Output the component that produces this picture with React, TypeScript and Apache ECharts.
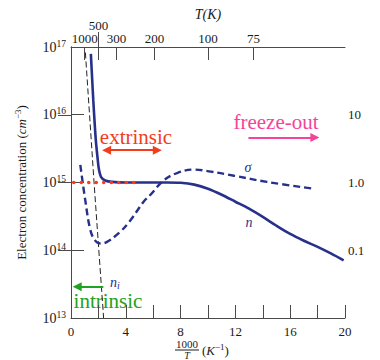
import React, { useEffect, useRef } from "react";
import * as echarts from "echarts";

const FONT = "'Liberation Serif', 'DejaVu Serif', serif";
const NAVY = "#27308a";
const AXIS = "#4a4a4a";
const TEXT = "#1a1a1a";
const RED = "#f23c1c";
const PINK = "#f6439a";
const GREEN = "#21a321";

// x = 1000/T (K^-1), electron concentration n (cm^-3)
const nData: [number, number][] = [
  [1.45, 7.9e16], [1.55, 3.2e16], [1.63, 1.6e16], [1.72, 7.9e15], [1.82, 4.0e15],
  [1.93, 2.4e15], [2.03, 1.6e15], [2.2, 1.2e15], [2.5, 1.07e15], [3.0, 1.02e15],
  [4.0, 1.0e15], [5.0, 1.0e15], [6.0, 1.0e15], [7.0, 1.0e15], [8.0, 9.9e14],
  [9.0, 9.3e14], [10.0, 8.1e14], [11.0, 6.6e14], [12.0, 5.2e14], [13.0, 4.1e14],
  [14.0, 3.1e14], [15.0, 2.3e14], [16.0, 1.74e14], [17.0, 1.38e14], [18.0, 1.12e14],
  [19.0, 8.9e13], [19.9, 7.1e13],
];
// conductivity sigma (right axis)
const sigmaData: [number, number][] = [
  [0.68, 1.82], [1.04, 0.55], [1.41, 0.2], [1.75, 0.14], [2.14, 0.126], [2.6, 0.132],
  [3.5, 0.18], [4.3, 0.27], [5.3, 0.52], [5.8, 0.66], [6.76, 1.07], [7.74, 1.38],
  [8.95, 1.55], [10.2, 1.45], [11.9, 1.26], [14.3, 1.02], [17.7, 0.81],
];
// intrinsic concentration n_i
const niData: [number, number][] = [[1.05, 8.3e16], [1.7, 8.9e14], [2.38, 1.0e13]];
// donor level N_d
const ndLevel: [number, number][] = [[-0.35, 1e15], [4.8, 1e15]];

const xLabelValues = [0, 4, 8, 12, 16, 20];
const topTickPos = [1, 2, 3.33, 6.1, 10, 13.33];
const topTickLabels = ["1000", "500", "300", "200", "100", "75"];
const rightTicks = [0.1, 1, 10];
const rightTickLabels = ["0.1", "1.0", "10"];

const extrinsicArrow: [number, number][] = [[2.6, 3.0e15], [6.3, 3.0e15]];
const freezeArrow: [number, number][] = [[12.95, 4.6e15], [17.8, 4.6e15]];
const intrinsicArrow: [number, number][] = [[2.36, 2.9e13], [0.45, 2.9e13]];

const topLabel = (v: number) => {
  const i = topTickPos.findIndex((p) => Math.abs(p - v) < 0.01);
  return i >= 0 ? topTickLabels[i] : "";
};

export default function App() {
  const ref = useRef<HTMLDivElement>(null);
  useEffect(() => {
    document.body.style.margin = "0";
    const chart = echarts.init(ref.current!, null, { renderer: "svg" });
    const labelStyle = { color: TEXT, fontFamily: FONT, fontSize: 13 };
    const arrowLine = (pts: [number, number][], color: string, startSym: string) => [
      { coord: pts[0], symbol: startSym, lineStyle: { color, width: 2, type: "solid" }, itemStyle: { color } },
      { coord: pts[1], symbol: "triangle", lineStyle: { color, width: 2, type: "solid" }, itemStyle: { color } },
    ];
    chart.setOption({
      animation: false,
      grid: { left: 71, right: 35, top: 47, bottom: 42 },
      xAxis: [
        {
          type: "value", min: 0, max: 20, interval: 2, position: "bottom",
          axisLine: { lineStyle: { color: AXIS, width: 1 } },
          axisTick: { inside: true, length: 13, lineStyle: { color: AXIS } },
          axisLabel: { ...labelStyle, margin: 7, formatter: (v: number) => (xLabelValues.includes(v) ? String(v) : "") },
          splitLine: { show: false },
        },
        {
          type: "value", min: 0, max: 20, position: "top",
          axisLine: { show: true, lineStyle: { color: AXIS, width: 1 } },
          axisTick: { show: true, inside: true, length: 13, customValues: topTickPos, lineStyle: { color: AXIS } },
          axisLabel: { ...labelStyle, margin: 2, customValues: topTickPos.filter((p) => p !== 2), formatter: topLabel },
          splitLine: { show: false },
          name: "T(K)", nameLocation: "middle", nameGap: 26,
          nameTextStyle: { color: TEXT, fontFamily: FONT, fontSize: 14, fontStyle: "italic" },
        },
        {
          type: "value", min: 0, max: 20, position: "top",
          axisLine: { show: false },
          axisTick: { show: true, inside: false, length: 15, customValues: [2], lineStyle: { color: AXIS } },
          axisLabel: { ...labelStyle, margin: 15, customValues: [2], formatter: topLabel },
          splitLine: { show: false },
        },
      ],
      yAxis: [
        {
          type: "log", logBase: 10, min: 1e13, max: 1e17, position: "left",
          axisLine: { show: true, lineStyle: { color: AXIS, width: 1 } },
          axisTick: { inside: true, length: 13, lineStyle: { color: AXIS } },
          axisLabel: {
            ...labelStyle,
            margin: 5,
            formatter: (v: number) => "{b|10}{s|" + Math.round(Math.log10(v)) + "}",
            rich: {
              b: { color: TEXT, fontFamily: FONT, fontSize: 14 },
              s: { color: TEXT, fontFamily: FONT, fontSize: 9.5, padding: [0, 0, 7, 0] },
            },
          },
          splitLine: { show: false },
          name: "{a|Electron concentration (}{i|cm}{s|−3}{a|)}",
          nameLocation: "middle", nameGap: 42, nameRotate: 90,
          nameTextStyle: {
            color: TEXT, fontFamily: FONT, fontSize: 13,
            rich: {
              a: { color: TEXT, fontFamily: FONT, fontSize: 13 },
              i: { color: TEXT, fontFamily: FONT, fontSize: 13, fontStyle: "italic" },
              s: { color: TEXT, fontFamily: FONT, fontSize: 9, padding: [0, 0, 7, 0] },
            },
          },
        },
        {
          type: "log", logBase: 10, min: 0.01, max: 100, position: "right",
          axisLine: { show: true, lineStyle: { color: AXIS, width: 1 } },
          axisTick: { inside: true, length: 13, customValues: rightTicks, lineStyle: { color: AXIS } },
          axisLabel: {
            ...labelStyle, margin: 3, customValues: rightTicks,
            formatter: (v: number) => {
              const i = rightTicks.findIndex((t) => Math.abs(t - v) / t < 0.01);
              return i >= 0 ? rightTickLabels[i] : "";
            },
          },
          splitLine: { show: false },
        },
      ],
      series: [
        {
          type: "line", data: niData, xAxisIndex: 0, yAxisIndex: 0, showSymbol: false, symbol: "none",
          lineStyle: { color: "#222", width: 1, type: [6, 3] },
        },
        {
          type: "line", data: nData, xAxisIndex: 0, yAxisIndex: 0, showSymbol: false, symbol: "none", smooth: 0.3,
          lineStyle: { color: NAVY, width: 2.6 },
        },
        {
          type: "line", data: sigmaData, xAxisIndex: 0, yAxisIndex: 1, showSymbol: false, symbol: "none", smooth: 0.4,
          lineStyle: { color: NAVY, width: 2.4, type: [7, 4] },
        },
        {
          type: "line", data: ndLevel, xAxisIndex: 0, yAxisIndex: 0, showSymbol: false, symbol: "none", clip: false,
          lineStyle: { color: "#ff3a1a", width: 3.5, type: [0.1, 7.4], cap: "round" },
          markLine: {
            silent: true, symbolSize: [9, 9], label: { show: false },
            data: [
              arrowLine(extrinsicArrow, RED, "triangle"),
              arrowLine(freezeArrow, PINK, "none"),
              arrowLine(intrinsicArrow, GREEN, "none"),
            ],
          },
        },
      ],
      graphic: [
        { type: "text", x: 136, y: 137, style: { text: "extrinsic", fill: RED, fontFamily: FONT, fontSize: 21, align: "center", verticalAlign: "middle" } },
        { type: "text", x: 276, y: 122, style: { text: "freeze-out", fill: PINK, fontFamily: FONT, fontSize: 21, align: "center", verticalAlign: "middle" } },
        { type: "text", x: 108, y: 301, style: { text: "intrinsic", fill: GREEN, fontFamily: FONT, fontSize: 21, align: "center", verticalAlign: "middle" } },
        { type: "text", x: 248, y: 167, style: { text: "σ", fill: NAVY, fontFamily: FONT, fontSize: 14, fontStyle: "italic", align: "center", verticalAlign: "middle" } },
        { type: "text", x: 249, y: 222, style: { text: "n", fill: NAVY, fontFamily: FONT, fontSize: 14, fontStyle: "italic", align: "center", verticalAlign: "middle" } },
        {
          type: "text", x: 110, y: 282,
          style: {
            text: "{n|n}{i|i}", align: "left", verticalAlign: "middle",
            rich: {
              n: { fill: NAVY, fontFamily: FONT, fontSize: 14, fontStyle: "italic" },
              i: { fill: NAVY, fontFamily: FONT, fontSize: 10, fontStyle: "italic", padding: [6, 0, 0, 0] },
            },
          },
        },
        { type: "text", x: 187, y: 344, style: { text: "1000", fill: TEXT, fontFamily: FONT, fontSize: 11, align: "center", verticalAlign: "middle" } },
        { type: "line", shape: { x1: 175, y1: 350, x2: 199, y2: 350 }, style: { stroke: TEXT, lineWidth: 1 } },
        { type: "text", x: 187, y: 355, style: { text: "T", fill: TEXT, fontFamily: FONT, fontSize: 10, fontStyle: "italic", align: "center", verticalAlign: "middle" } },
        {
          type: "text", x: 202, y: 350,
          style: {
            text: "{a|(}{i|K}{s|−1}{a|)}", align: "left", verticalAlign: "middle",
            rich: {
              a: { fill: TEXT, fontFamily: FONT, fontSize: 13 },
              i: { fill: TEXT, fontFamily: FONT, fontSize: 13, fontStyle: "italic" },
              s: { fill: TEXT, fontFamily: FONT, fontSize: 9, padding: [0, 0, 7, 0] },
            },
          },
        },
      ],
    });
    return () => chart.dispose();
  }, []);
  return <div ref={ref} style={{ width: 380, height: 360 }} />;
}
